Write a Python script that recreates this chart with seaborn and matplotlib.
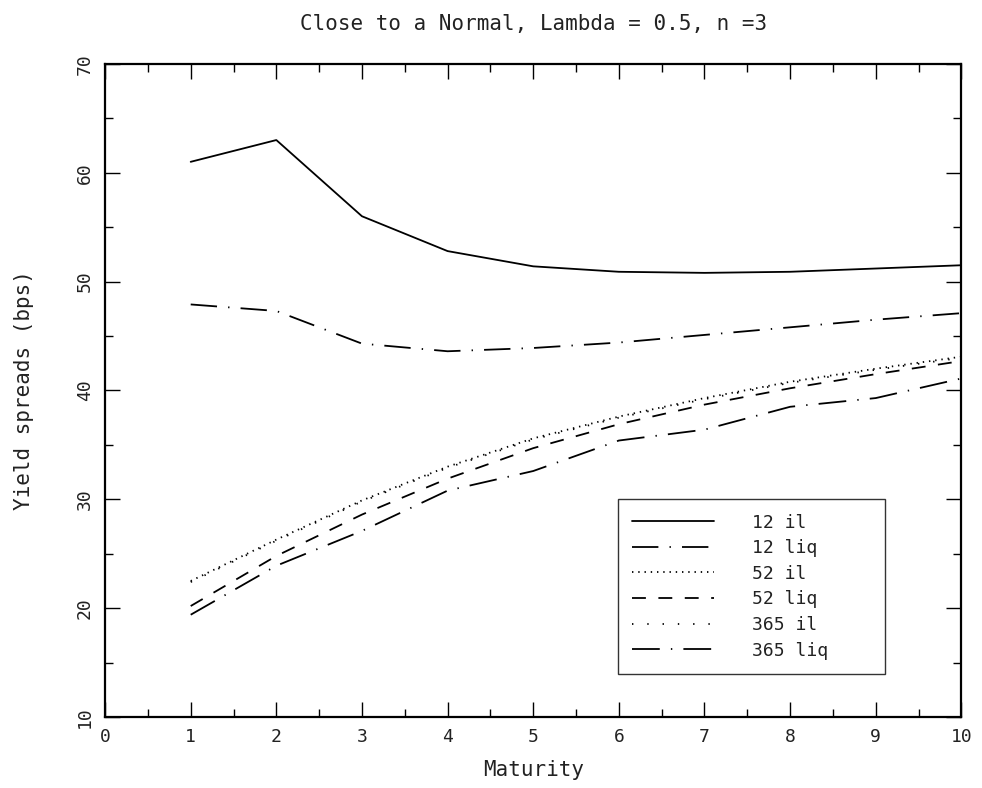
import matplotlib
matplotlib.use("Agg")
import matplotlib.pyplot as plt
import seaborn as sns

sns.set_style("ticks")
plt.rcParams['font.family'] = ['DejaVu Sans Mono', 'DejaVu Sans']
plt.rcParams['lines.scale_dashes'] = False

maturity = [1, 2, 3, 4, 5, 6, 7, 8, 9, 10]
il_12 = [61.0, 63.0, 56.0, 52.8, 51.4, 50.9, 50.8, 50.9, 51.2, 51.5]
liq_12 = [47.9, 47.3, 44.3, 43.6, 43.9, 44.4, 45.1, 45.8, 46.5, 47.1]
il_52 = [22.5, 26.3, 29.9, 33.0, 35.6, 37.6, 39.3, 40.8, 42.0, 43.1]
liq_52 = [20.2, 24.8, 28.6, 31.9, 34.7, 36.9, 38.7, 40.2, 41.5, 42.7]
il_365 = [22.4, 26.2, 29.8, 32.9, 35.5, 37.5, 39.2, 40.7, 41.9, 43.0]
liq_365 = [19.4, 23.9, 27.1, 30.8, 32.6, 35.4, 36.4, 38.5, 39.3, 41.1]

series = [
    ("12 il", il_12, '-'),
    ("12 liq", liq_12, (0, (19, 8, 1, 8))),
    ("52 il", il_52, (0, (1, 3.5))),
    ("52 liq", liq_52, (0, (10, 9))),
    ("365 il", il_365, (0, (1, 10))),
    ("365 liq", liq_365, (0, (20, 8, 1, 8))),
]

fig, ax = plt.subplots(figsize=(9.82, 7.88), dpi=100)
fig.subplots_adjust(left=0.107, right=0.979, top=0.919, bottom=0.09)

for name, vals, ls in series:
    sns.lineplot(x=maturity, y=vals, ax=ax, color='black', linewidth=1.3,
                 linestyle=ls, label=name)

ax.set_xlim(0, 10)
ax.set_ylim(10, 70)
ax.set_xticks(range(0, 11))
ax.set_xticks([i + 0.5 for i in range(10)], minor=True)
ax.set_yticks(range(10, 71, 10))
ax.set_yticks(range(15, 70, 10), minor=True)
ax.tick_params(which='both', direction='in', top=True, right=True,
               labelsize=13, colors='black', labelcolor='#222222', pad=8)
ax.tick_params(which='major', length=11, width=1)
ax.tick_params(which='minor', length=6, width=1)
for lab in ax.get_yticklabels():
    lab.set_rotation(90)
    lab.set_va('center')
for sp in ax.spines.values():
    sp.set_linewidth(1.6)
    sp.set_color('black')

ax.set_title("Close to a Normal, Lambda = 0.5, n =3", fontsize=15,
             color='#222222', pad=24)
ax.set_xlabel("Maturity", fontsize=15, color='#222222', labelpad=10)
ax.set_ylabel("Yield spreads (bps)", fontsize=15, color='#222222', labelpad=30)

leg = ax.legend(loc='lower left', bbox_to_anchor=(0.599, 0.066, 0.312, 0.268),
                mode='expand', fontsize=13, handlelength=4.5, handletextpad=2.1,
                labelspacing=0.42, borderpad=0.8, fancybox=False, frameon=True,
                borderaxespad=0)
leg.get_frame().set_edgecolor('black')
leg.get_frame().set_linewidth(1.0)
for t in leg.get_texts():
    t.set_color('#222222')

fig.savefig("out.png", dpi=100)
